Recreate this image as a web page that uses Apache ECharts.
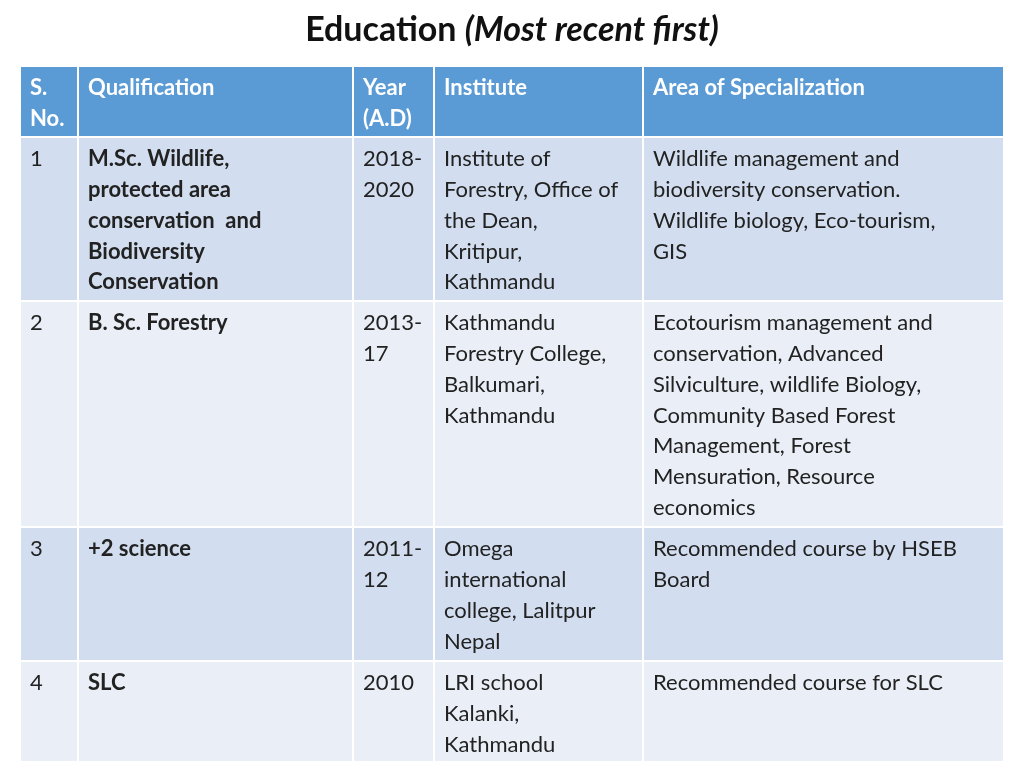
<!DOCTYPE html>
<html><head><meta charset="utf-8">
<script src="https://cdn.jsdelivr.net/npm/echarts@6/dist/echarts.min.js"></script>
<style>html,body{margin:0;padding:0;background:#fff}#c{width:1024px;height:768px}</style>
</head><body><div id="c"></div>
<script>
const headers = ["S.\nNo.", "Qualification", "Year\n(A.D)", "Institute", "Area of Specialization"];
const serialNos = ["1", "2", "3", "4"];
const qualifications = ["M.Sc. Wildlife,\nprotected area\nconservation  and\nBiodiversity\nConservation", "B. Sc. Forestry", "+2 science", "SLC"];
const years = ["2018-\n2020", "2013-\n17", "2011-\n12", "2010"];
const institutes = ["Institute of\nForestry, Office of\nthe Dean,\nKritipur,\nKathmandu", "Kathmandu\nForestry College,\nBalkumari,\nKathmandu", "Omega\ninternational\ncollege, Lalitpur\nNepal", "LRI school\nKalanki,\nKathmandu"];
const areas = ["Wildlife management and\nbiodiversity conservation.\nWildlife biology, Eco-tourism,\nGIS", "Ecotourism management and\nconservation, Advanced\nSilviculture, wildlife Biology,\nCommunity Based Forest\nManagement, Forest\nMensuration, Resource\neconomics", "Recommended course by HSEB\nBoard", "Recommended course for SLC"];

// layout (pixel-unit axis coordinates)
const colEdges = [20, 78, 353, 434, 643, 1004];
const rowEdges = [66, 137, 301, 527, 661, 762];

const cols = [headers];
const body = [serialNos, qualifications, years, institutes, areas];
const cells = [];
for (let c = 0; c < 5; c++) cells.push([c, 0, headers[c]]);
for (let r = 0; r < 4; r++) for (let c = 0; c < 5; c++) cells.push([c, r + 1, body[c][r]]);

const chart = echarts.init(document.getElementById('c'));
chart.setOption({
  animation: false,
  title: {
    text: '{b|Education }{i|(Most recent first)}', left: 'center', top: 8,
    textStyle: { rich: {
      b: { fontFamily: 'Lato', fontWeight: 'bold', fontSize: 34, color: '#111' },
      i: { fontFamily: 'Lato', fontStyle: 'italic', fontSize: 34, color: '#111' } } }
  },
  grid: { left: 0, right: 0, top: 0, bottom: 0 },
  xAxis: { type: 'value', min: 0, max: 1024, show: false },
  yAxis: { type: 'value', min: 0, max: 768, inverse: true, show: false },
  series: [{
    type: 'custom',
    data: cells,
    renderItem: function (params, api) {
      const c = api.value(0), r = api.value(1);
      const txt = cells[params.dataIndex][2];
      const p0 = api.coord([colEdges[c], rowEdges[r]]);
      const p1 = api.coord([colEdges[c + 1], rowEdges[r + 1]]);
      const header = r === 0;
      const fill = header ? '#5B9BD5' : (r % 2 === 1 ? '#D2DEEF' : '#EAEFF7');
      const bold = header || c === 1;
      return { type: 'group', children: [
        { type: 'rect', shape: { x: p0[0] + 1, y: p0[1] + 1, width: p1[0] - p0[0] - 2, height: p1[1] - p0[1] - 2 },
          style: { fill: fill } },
        { type: 'text', x: p0[0] + 10, y: p0[1] + 7,
          style: { text: txt, fill: header ? '#fff' : '#222', fontFamily: 'Lato', fontSize: 22,
            fontWeight: bold ? 'bold' : 'normal', lineHeight: 30.7, verticalAlign: 'top', align: 'left' } }
      ] };
    }
  }]
});
</script></body></html>
